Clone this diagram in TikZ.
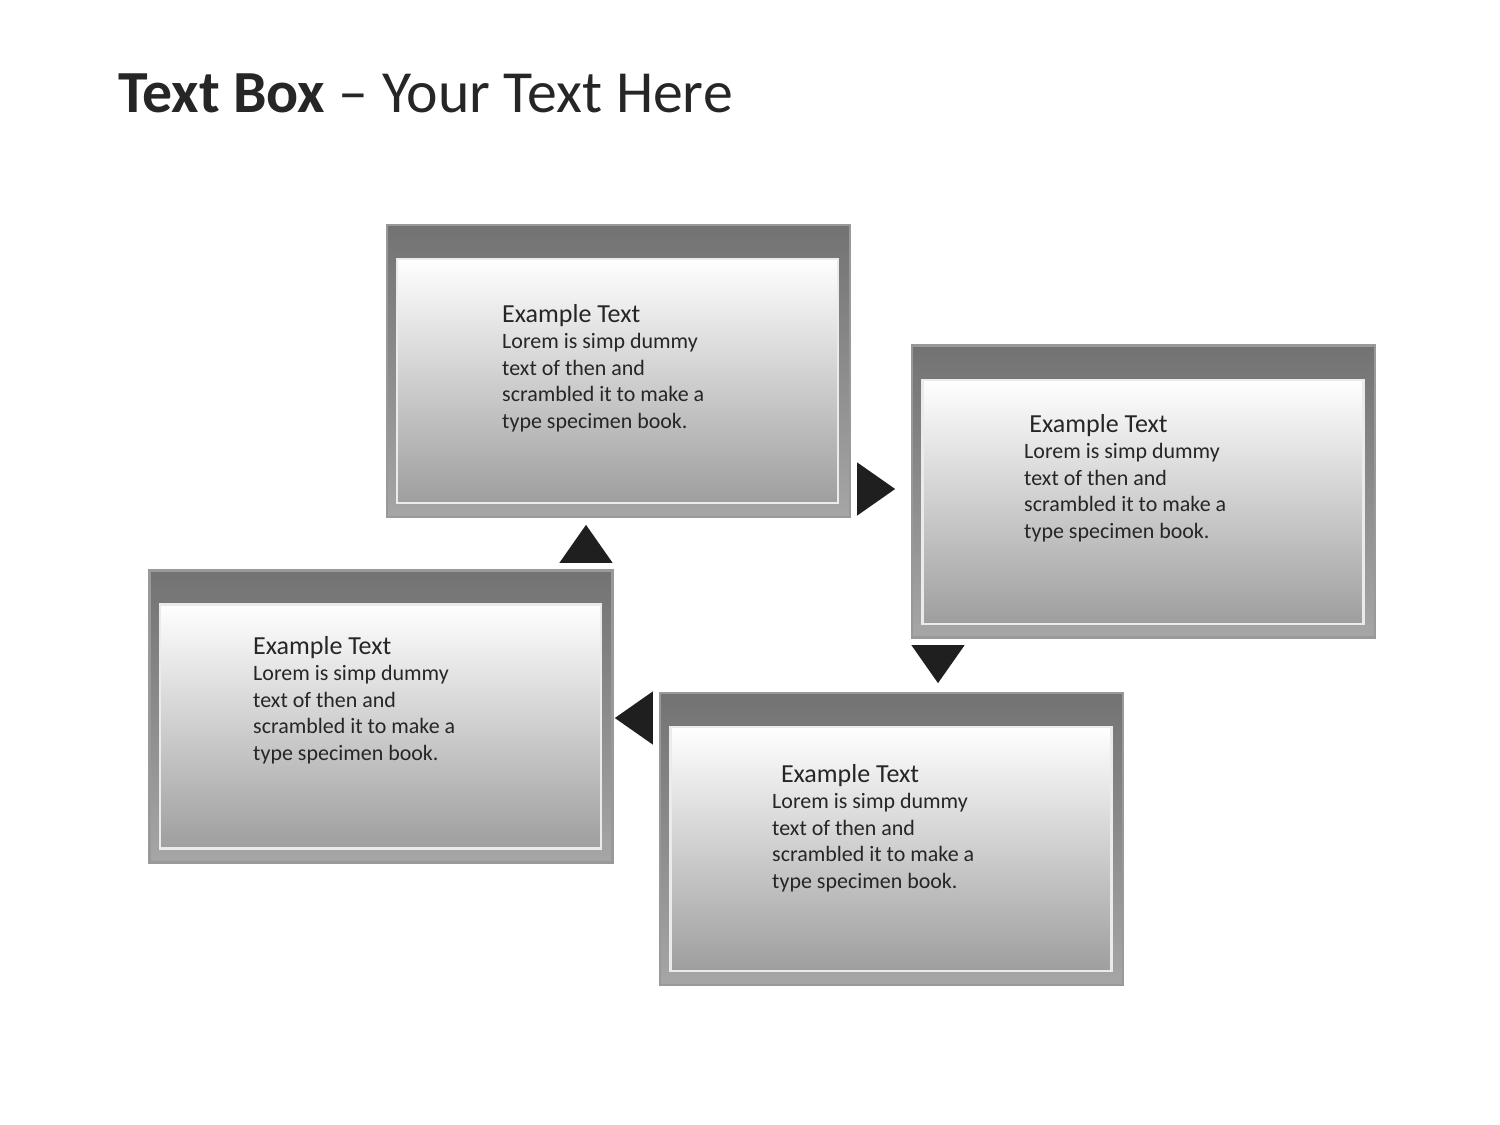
\documentclass[tikz,border=0pt]{standalone}
\usepackage{fontspec}
\setmainfont{Carlito}
\usetikzlibrary{shapes.geometric,positioning}
\newcommand{\boxhead}{\fontsize{14.8pt}{17pt}\selectfont}

\begin{document}
\begin{tikzpicture}[
    x=0.02cm, y=-0.02cm,
    outer/.style={rectangle, draw=black!40, line width=1.2pt, top color=black!55, bottom color=black!35, minimum width=9.26cm, minimum height=5.84cm},
    inner/.style={rectangle, draw=black!8, line width=1.5pt, top color=white, bottom color=black!38, minimum width=8.82cm, minimum height=4.88cm},
    caption/.style={anchor=north west, align=left, text=black!85, font=\fontsize{12.5pt}{15.1pt}\selectfont},
    tip/.style={isosceles triangle, isosceles triangle apex angle=70, fill=black!88, inner sep=0pt, minimum height=0.76cm}
]
    \useasboundingbox (0,0) rectangle (1500,1125);
    % Title
    \node[anchor=west, text=black!85, font=\fontsize{34pt}{40pt}\selectfont] (title) at (112,93) {\textbf{Text Box} -- Your Text Here};

    % Boxes
    \node[outer] (boxA) at (618.5,371) {};
    \node[inner] (innerA) at (617.5,381) {};
    \node[caption] (textA) at (496,298) {{\boxhead Example Text}\\Lorem is simp dummy\\text of then and\\scrambled it to make a\\type specimen book.};

    \node[outer] (boxB) at (1143.5,491.5) {};
    \node[inner] (innerB) at (1143,502) {};
    \node[caption] (textB) at (1018,408) {\hspace*{3pt}{\boxhead Example Text}\\Lorem is simp dummy\\text of then and\\scrambled it to make a\\type specimen book.};

    \node[outer] (boxC) at (891.5,839) {};
    \node[inner] (innerC) at (891,849) {};
    \node[caption] (textC) at (766,758) {\hspace*{5pt}{\boxhead Example Text}\\Lorem is simp dummy\\text of then and\\scrambled it to make a\\type specimen book.};

    \node[outer] (boxD) at (381,716.5) {};
    \node[inner] (innerD) at (380.5,726.5) {};
    \node[caption] (textD) at (247,630) {{\boxhead Example Text}\\Lorem is simp dummy\\text of then and\\scrambled it to make a\\type specimen book.};

    % Arrow heads
    \node[tip, shape border rotate=0] (tipAB) at (871,489) {};
    \node[tip, shape border rotate=-90] (tipBC) at (938,659) {};
    \node[tip, shape border rotate=180] (tipCD) at (639,718) {};
    \node[tip, shape border rotate=90] (tipDA) at (586,549) {};
\end{tikzpicture}
\end{document}
